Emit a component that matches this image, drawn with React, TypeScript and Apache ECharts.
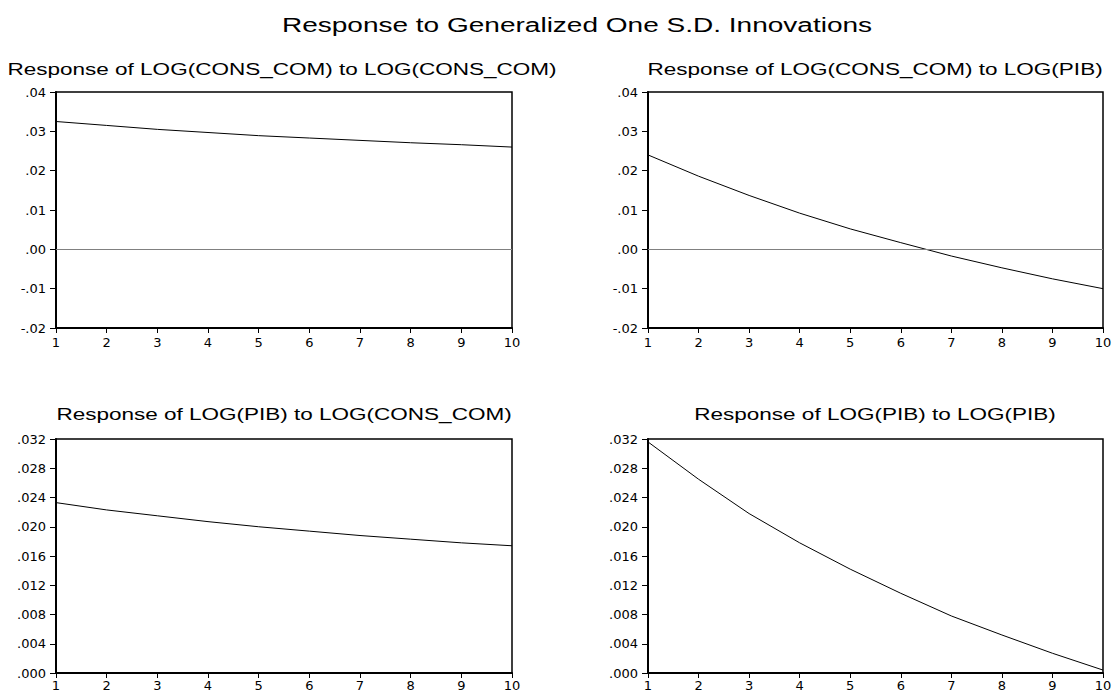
import React, { useEffect, useRef } from "react";
import * as echarts from "echarts";

const periods = [1, 2, 3, 4, 5, 6, 7, 8, 9, 10];
const consToCons = [0.0325, 0.0315, 0.0305, 0.0297, 0.0289, 0.0283, 0.0277, 0.0271, 0.0266, 0.026];
const consToPib = [0.024, 0.0186, 0.0137, 0.0092, 0.0052, 0.0017, -0.0017, -0.0047, -0.0075, -0.01];
const pibToCons = [0.0233, 0.0223, 0.0215, 0.0207, 0.02, 0.0194, 0.0188, 0.0183, 0.0178, 0.0174];
const pibToPib = [0.0316, 0.0265, 0.0218, 0.0178, 0.0142, 0.0109, 0.0078, 0.0052, 0.0027, 0.0004];

const mainTitle = "Response to Generalized One S.D. Innovations";
const panelTitles = [
  "Response of LOG(CONS_COM) to LOG(CONS_COM)",
  "Response of LOG(CONS_COM) to LOG(PIB)",
  "Response of LOG(PIB) to LOG(CONS_COM)",
  "Response of LOG(PIB) to LOG(PIB)",
];
const topYRange = { min: -0.02, max: 0.04, interval: 0.01, digits: 2 };
const bottomYRange = { min: 0, max: 0.032, interval: 0.004, digits: 3 };

const panels = [
  { data: consToCons, grid: { left: 56, top: 92, width: 456, height: 236 }, y: topYRange, zero: true, title: panelTitles[0], tx: 282, ty: 69 },
  { data: consToPib, grid: { left: 648, top: 92, width: 455, height: 236 }, y: topYRange, zero: true, title: panelTitles[1], tx: 875, ty: 69 },
  { data: pibToCons, grid: { left: 56, top: 439, width: 456, height: 234 }, y: bottomYRange, zero: false, title: panelTitles[2], tx: 284, ty: 414 },
  { data: pibToPib, grid: { left: 648, top: 439, width: 455, height: 234 }, y: bottomYRange, zero: false, title: panelTitles[3], tx: 875, ty: 414 },
];

const fmt = (digits: number) => (v: number) => {
  const s = (Math.abs(v) < 1e-12 ? 0 : v).toFixed(digits);
  return s.replace(/^(-?)0\./, "$1.");
};

export default function App() {
  const ref = useRef<HTMLDivElement>(null);
  useEffect(() => {
    if (!ref.current) return;
    const chart = echarts.init(ref.current, undefined, { renderer: "svg" });
    const labelFont = { fontFamily: "DejaVu Sans", fontSize: 13, color: "#000" };
    const option: any = {
      animation: false,
      backgroundColor: "#fff",
      grid: panels.map((p) => ({
        ...p.grid,
        show: true,
        borderColor: "#000",
        borderWidth: 1.5,
        backgroundColor: "transparent",
        containLabel: false,
      })),
      xAxis: panels.map((p, i) => ({
        type: "value",
        gridIndex: i,
        min: 1,
        max: 10,
        interval: 1,
        axisLine: { show: true, onZero: false, lineStyle: { color: "#000", width: 2 } },
        axisTick: { show: true, inside: false, length: 5, lineStyle: { color: "#000", width: 1 } },
        axisLabel: { ...labelFont, margin: i < 2 ? 8 : 6 },
        splitLine: { show: false },
      })),
      yAxis: panels.map((p, i) => ({
        type: "value",
        gridIndex: i,
        min: p.y.min,
        max: p.y.max,
        interval: p.y.interval,
        axisLine: { show: true, onZero: false, lineStyle: { color: "#000", width: 2 } },
        axisTick: { show: true, inside: false, length: 6, lineStyle: { color: "#000", width: 1 } },
        axisLabel: { ...labelFont, margin: 10, formatter: fmt(p.y.digits) },
        splitLine: { show: false },
      })),
      series: panels.map((p, i) => ({
        type: "line",
        xAxisIndex: i,
        yAxisIndex: i,
        data: periods.map((x, k) => [x, p.data[k]]),
        symbol: "none",
        lineStyle: { color: "#000", width: 1 },
        z: 3,
        markLine: p.zero
          ? {
              silent: true,
              symbol: ["none", "none"],
              label: { show: false },
              lineStyle: { color: "#808080", width: 1, type: "solid" },
              data: [{ yAxis: 0 }],
            }
          : undefined,
      })),
      graphic: [
        {
          type: "text",
          x: 577,
          y: 25,
          scaleX: 1.335,
          style: {
            text: mainTitle,
            font: "21px 'Liberation Sans', Arial, sans-serif",
            fill: "#000",
            textAlign: "center",
            textVerticalAlign: "middle",
          },
        },
        ...panels.map((p) => ({
          type: "text",
          x: p.tx,
          y: p.ty,
          scaleX: 1.325,
          style: {
            text: p.title,
            font: "17px 'Liberation Sans', Arial, sans-serif",
            fill: "#000",
            textAlign: "center",
            textVerticalAlign: "middle",
          },
        })),
      ],
    };
    chart.setOption(option);
    return () => chart.dispose();
  }, []);
  return (
    <div
      ref={ref}
      style={{ position: "fixed", left: 0, top: 0, width: 1115, height: 692, background: "#fff" }}
    />
  );
}
